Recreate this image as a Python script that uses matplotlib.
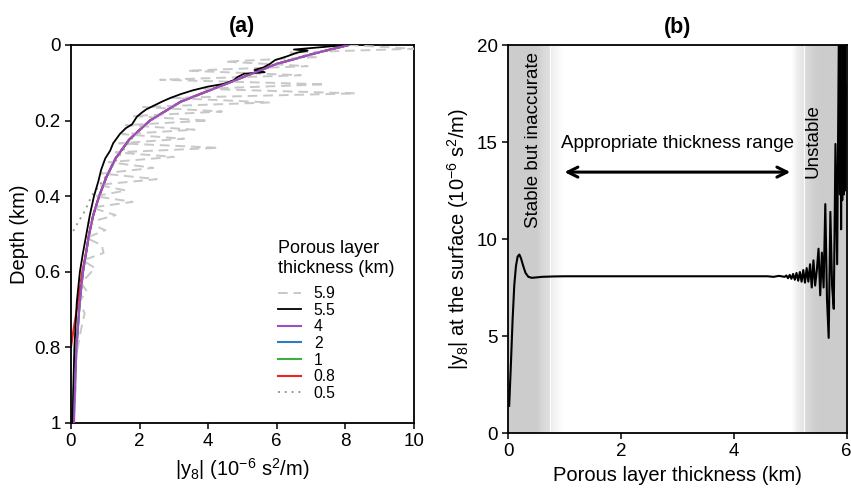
import numpy as np
import matplotlib
matplotlib.use("Agg")
import matplotlib.pyplot as plt

plt.rcParams["font.family"] = ["Liberation Sans", "DejaVu Sans"]
plt.rcParams["mathtext.fontset"] = "custom"
plt.rcParams["mathtext.rm"] = "Liberation Sans"

# ---- (a) depth profiles of |y8| for several porous layer thicknesses ----
depth = [0, 0.02, 0.05, 0.1, 0.15, 0.2, 0.25, 0.3, 0.35, 0.4, 0.45,
         0.5, 0.55, 0.6, 0.65, 0.7, 0.75, 0.8, 0.85, 0.9, 0.95, 1.0]
y8_4km = [8.1, 7.2, 6.0, 4.6, 3.2, 2.3, 1.7, 1.3, 1.03, 0.82, 0.65,
          0.53, 0.44, 0.35, 0.29, 0.24, 0.2, 0.16, 0.14, 0.12, 0.1, 0.09]
y8_2km = [8.1, 7.2, 6.0, 4.6, 3.2, 2.3, 1.7, 1.3, 1.03, 0.82, 0.65,
          0.53, 0.44, 0.35, 0.29, 0.24, 0.2, 0.16, 0.14, 0.12, 0.1, 0.08]
y8_1km = [8.1, 7.2, 6.0, 4.6, 3.2, 2.3, 1.7, 1.3, 1.03, 0.82, 0.65,
          0.53, 0.44, 0.35, 0.29, 0.24, 0.2, 0.16, 0.12, 0.09, 0.05, 0.02]
depth_08 = [0, 0.02, 0.05, 0.1, 0.15, 0.2, 0.25, 0.3, 0.35, 0.4, 0.45,
            0.5, 0.55, 0.6, 0.65, 0.7, 0.75, 0.8]
y8_08km = [8.1, 7.2, 6.0, 4.6, 3.2, 2.3, 1.7, 1.3, 1.03, 0.82, 0.65,
           0.53, 0.44, 0.33, 0.25, 0.17, 0.08, 0.0]
depth_05 = [0, 0.02, 0.05, 0.1, 0.15, 0.2, 0.25, 0.3, 0.35, 0.4, 0.44, 0.47, 0.5]
y8_05km = [8.1, 7.2, 6.0, 4.6, 3.2, 2.3, 1.75, 1.35, 1.0, 0.6, 0.4, 0.2, 0.02]

depth_55 = [0, 0.005, 0.012, 0.015, 0.02, 0.03, 0.04, 0.05, 0.06, 0.066,
            0.072, 0.076, 0.085, 0.093, 0.103, 0.11, 0.12, 0.13, 0.14, 0.15,
            0.163, 0.17, 0.18, 0.19, 0.20, 0.21, 0.22, 0.235, 0.26, 0.28,
            0.30, 0.33, 0.36, 0.40, 0.45, 0.50, 0.55, 0.60, 0.68, 0.80,
            0.90, 1.0]
y8_55km = [8.0, 7.4, 6.5, 6.9, 6.6, 6.3, 5.95, 5.8, 5.6, 5.35,
           5.65, 5.05, 4.85, 4.75, 4.45, 4.0, 3.55, 3.2, 2.9, 2.65,
           2.36, 2.2, 2.05, 1.92, 1.85, 1.78, 1.6, 1.43, 1.23, 1.14,
           1.0, 0.88, 0.8, 0.67, 0.55, 0.45, 0.35, 0.26, 0.17, 0.1,
           0.07, 0.05]

depth_59 = [0.000, 0.010, 0.020, 0.032, 0.044, 0.056, 0.068, 0.080, 0.092, 0.104,
            0.116, 0.128, 0.140, 0.152, 0.164, 0.176, 0.188, 0.200, 0.212, 0.224,
            0.236, 0.248, 0.260, 0.272, 0.284, 0.296, 0.310, 0.325, 0.340, 0.355,
            0.370, 0.385, 0.400, 0.415, 0.430, 0.450, 0.470, 0.490, 0.510, 0.530,
            0.550, 0.570, 0.590, 0.610, 0.630, 0.650, 0.680, 0.710, 0.750, 0.800,
            0.850, 0.900, 0.950, 1.000]
y8_59km = [8.1, 10.0, 6.4, 7.2, 4.5, 6.9, 3.4, 6.7, 2.6, 7.4,
           3.8, 8.3, 2.9, 5.8, 2.1, 4.4, 1.8, 4.0, 1.6, 3.6,
           1.5, 3.3, 1.4, 4.3, 1.3, 3.0, 1.1, 2.4, 0.9, 2.5,
           0.8, 1.6, 0.7, 1.8, 0.6, 1.3, 0.5, 1.0, 0.45, 0.9,
           0.95, 0.35, 0.7, 0.5, 0.3, 0.45, 0.25, 0.4, 0.3, 0.2,
           0.12, 0.15, 0.1, 0.08]

# ---- (b) surface |y8| against porous layer thickness ----
thick = [0.02, 0.05, 0.08, 0.11, 0.14, 0.17, 0.20, 0.23, 0.27, 0.31,
         0.36, 0.42, 0.50, 0.60, 0.80, 1.0, 2.0, 3.0, 4.0, 4.6,
         4.7, 4.8, 4.90, 4.93, 4.96, 4.99, 5.02, 5.05, 5.08, 5.11,
         5.14, 5.17, 5.20, 5.23, 5.26, 5.29, 5.32, 5.35, 5.38, 5.41,
         5.44, 5.47, 5.50, 5.53, 5.56, 5.59, 5.62, 5.65, 5.68, 5.71,
         5.74, 5.77, 5.80, 5.83, 5.86, 5.88, 5.89, 5.90, 5.91, 5.92,
         5.93, 5.94, 5.95, 5.96, 5.97, 5.98]
y8_surf = [1.4, 3.5, 5.8, 7.6, 8.6, 9.1, 9.2, 9.0, 8.6, 8.25,
           8.05, 8.0, 8.02, 8.05, 8.07, 8.08, 8.08, 8.08, 8.08, 8.08,
           8.05, 8.1, 8.05, 8.12, 7.98, 8.15, 7.95, 8.2, 7.9, 8.25,
           7.85, 8.3, 7.8, 8.4, 7.75, 8.5, 7.8, 8.7, 7.5, 8.9,
           7.6, 8.4, 9.5, 7.1, 9.3, 7.5, 11.8, 6.9, 4.9, 11.4,
           7.6, 6.4, 14.9, 8.7, 20.5, 12.3, 20.5, 10.5, 20.5, 12.0,
           18.2, 20.5, 12.3, 20.5, 12.5, 18.0]

# gray shading across the thickness axis (position in km, gray level)
shade_pos = [0, 0.50, 0.62, 0.735, 0.74, 0.75, 0.76, 0.85, 0.97,
             5.03, 5.15, 5.245, 5.25, 5.26, 5.27, 5.40, 5.50, 6.0]
shade_gray = [0.80, 0.80, 0.85, 0.88, 1.0, 1.0, 0.93, 0.96, 1.0,
              1.0, 0.92, 0.90, 1.0, 1.0, 0.86, 0.82, 0.80, 0.80]

fig = plt.figure(figsize=(8.51, 4.88), dpi=100)
ax1 = fig.add_axes([0.0834, 0.1332, 0.403, 0.7746])
ax2 = fig.add_axes([0.597, 0.1127, 0.398, 0.795])

ax1.plot(y8_59km, depth_59, color="#c8c8c8", ls=(0, (5, 3)), lw=1.4, label="5.9", zorder=3)
ax1.plot(y8_55km, depth_55, color="black", lw=1.3, label="5.5", zorder=4)
l4, = ax1.plot(y8_4km, depth, color="#9b4fc0", lw=1.5, zorder=5)
l2, = ax1.plot(y8_2km, depth, color="#2e7bbf", lw=1.5, zorder=2)
l1, = ax1.plot(y8_1km, depth, color="#3cb043", lw=1.5, zorder=2)
l08, = ax1.plot(y8_08km, depth_08, color="#ee2222", lw=1.5, zorder=2)
l05, = ax1.plot(y8_05km, depth_05, color="#999999", ls=(0, (1, 2.5)), lw=1.4, zorder=2)
for ln, lab in zip([l4, l2, l1, l08, l05], ["4", "2", "1", "0.8", "0.5"]):
    ln.set_label(lab)

ax1.set_xlim(0, 10)
ax1.set_ylim(1, 0)
ax1.set_xticks([0, 2, 4, 6, 8, 10])
ax1.set_yticks([0, 0.2, 0.4, 0.6, 0.8, 1])
ax1.set_yticklabels(["0", "0.2", "0.4", "0.6", "0.8", "1"])
ax1.set_xlabel(r"$\mathregular{|y_8|}$ ($\mathregular{10^{-6}}$ s$\mathregular{^2}$/m)", fontsize=14.5)
ax1.set_ylabel("Depth (km)", fontsize=14.5)
ax1.set_title("(a)", fontsize=15.5, fontweight="bold", pad=9)
leg = ax1.legend(title="Porous layer\nthickness (km)", loc="upper left",
                 bbox_to_anchor=(0.58, 0.505), frameon=False, fontsize=11.3,
                 title_fontsize=13, alignment="left", handlelength=1.5,
                 handletextpad=0.8, labelspacing=0.1, borderpad=0)
leg._legend_box.sep = 7

xs = np.linspace(0, 6, 1200)
g = np.interp(xs, shade_pos, shade_gray)
ax2.imshow(np.repeat(g[None, :, None], 3, axis=2), extent=[0, 6, 0, 20],
           aspect="auto", interpolation="nearest", zorder=0)
ax2.plot(thick, y8_surf, color="black", lw=1.5, zorder=3)
ax2.annotate("", xy=(0.95, 13.45), xytext=(5.05, 13.45),
             arrowprops=dict(arrowstyle="<->", lw=2.2, color="black", mutation_scale=18))
ax2.text(3.0, 14.95, "Appropriate thickness range", fontsize=13.5, ha="center", va="center")
ax2.text(0.45, 15.1, "Stable but inaccurate", fontsize=13.5, rotation=90, ha="center", va="center")
ax2.text(5.40, 15.05, "Unstable", fontsize=13.5, rotation=90, ha="center", va="center")
ax2.set_xlim(0, 6)
ax2.set_ylim(0, 20)
ax2.set_xticks([0, 2, 4, 6])
ax2.set_yticks([0, 5, 10, 15, 20])
ax2.set_xlabel("Porous layer thickness (km)", fontsize=14.5)
ax2.set_ylabel(r"$\mathregular{|y_8|}$ at the surface ($\mathregular{10^{-6}}$ s$\mathregular{^2}$/m)", fontsize=14.5)
ax2.set_title("(b)", fontsize=15.5, fontweight="bold", pad=9)

for ax in (ax1, ax2):
    ax.tick_params(labelsize=13.5, direction="out", length=4, width=1.1)
    for sp in ax.spines.values():
        sp.set_linewidth(1.3)

fig.savefig("out.png", dpi=100)
